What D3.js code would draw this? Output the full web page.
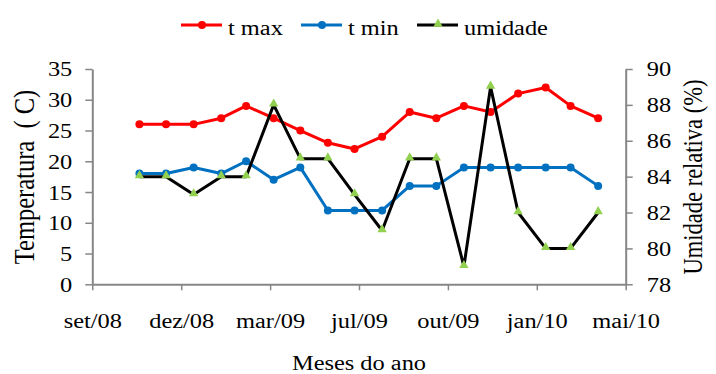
<!DOCTYPE html>
<html>
<head>
<meta charset="utf-8">
<script src="https://cdn.jsdelivr.net/npm/d3@7/dist/d3.min.js"></script>
<style>
  html, body { margin: 0; padding: 0; background: #fff; }
  svg { display: block; }
  text { font-family: "Liberation Serif", "Times New Roman", serif; fill: #000; }
</style>
</head>
<body>
<svg id="chart" width="716" height="374"></svg>
<script>
// Monthly observations, Nov 2008 - Apr 2010 (first day of each month)
const months = ["2008-11-01","2008-12-01","2009-01-01","2009-02-01","2009-03-01","2009-04-01",
                "2009-05-01","2009-06-01","2009-07-01","2009-08-01","2009-09-01","2009-10-01",
                "2009-11-01","2009-12-01","2010-01-01","2010-02-01","2010-03-01","2010-04-01"];
const tMax = [26, 26, 26, 27, 29, 27, 25, 23, 22, 24, 28, 27, 29, 28, 31, 32, 29, 27];
const tMin = [18, 18, 19, 18, 20, 17, 19, 12, 12, 12, 16, 16, 19, 19, 19, 19, 19, 16];
const umidade = [84, 84, 83, 84, 84, 88, 85, 85, 83, 81, 85, 85, 79, 89, 82, 80, 80, 82];

// Date axis: ticks every 100 days
const xTickDates = ["2008-09-09","2008-12-18","2009-03-28","2009-07-06","2009-10-14","2010-01-22","2010-05-02"];
const xTickLabels = ["set/08","dez/08","mar/09","jul/09","out/09","jan/10","mai/10"];
const tempTicks = [0, 5, 10, 15, 20, 25, 30, 35];
const humTicks = [78, 80, 82, 84, 86, 88, 90];

const parse = d3.utcParse("%Y-%m-%d");
const plotLeft = 92.3, plotRight = 625.7, plotTop = 69, plotBottom = 284.3;
const SX = 1.19;            // horizontal text stretch
const FS = 20.5;            // base font size
const axisColor = "#868686";

const svg = d3.select("#chart");

const x = d3.scaleUtc().domain([parse(xTickDates[0]), parse(xTickDates[xTickDates.length - 1])]).range([plotLeft, plotRight]);
const yT = d3.scaleLinear().domain([0, 35]).range([plotBottom, plotTop]);
const yH = d3.scaleLinear().domain([78, 90]).range([plotBottom, plotTop]);

// stretch a text node horizontally around its anchor position
function stretchText(sel, fs) {
  sel.each(function () {
    const t = d3.select(this);
    const tx = +t.attr("x") || 0;
    t.attr("x", tx / SX).attr("transform", `scale(${SX},1)`).style("font-size", fs + "px");
  });
}

function styleAxis(g) {
  g.attr("font-family", null);
  g.select(".domain").attr("stroke", axisColor).attr("stroke-width", 2);
  g.selectAll(".tick line").attr("stroke", axisColor).attr("stroke-width", 1.5);
  g.selectAll("text").attr("fill", "#000");
}

// Left axis (temperature)
const gL = svg.append("g").attr("transform", `translate(${plotLeft},0)`)
  .call(d3.axisLeft(yT).tickValues(tempTicks).tickSize(7).tickPadding(13).tickSizeOuter(0));
styleAxis(gL);
gL.selectAll("text").attr("dy", "0.34em");
stretchText(gL.selectAll("text"), FS);

// Right axis (humidity)
const gR = svg.append("g").attr("transform", `translate(${plotRight},0)`)
  .call(d3.axisRight(yH).tickValues(humTicks).tickSize(7).tickPadding(14).tickSizeOuter(0));
styleAxis(gR);
gR.selectAll("text").attr("dy", "0.34em");
stretchText(gR.selectAll("text"), FS);

// Bottom axis (dates)
const gB = svg.append("g").attr("transform", `translate(0,${plotBottom})`)
  .call(d3.axisBottom(x).tickValues(xTickDates.map(parse)).tickSize(6).tickPadding(23).tickSizeOuter(0)
    .tickFormat((d, i) => xTickLabels[i]));
styleAxis(gB);
gB.selectAll("text").attr("dy", "0.71em");
stretchText(gB.selectAll("text"), FS);

// Series
const series = [
  { name: "t max", values: tMax, y: yT, color: "#ff0000", marker: "circle" },
  { name: "t min", values: tMin, y: yT, color: "#0070c0", marker: "circle" },
  { name: "umidade", values: umidade, y: yH, color: "#000000", marker: "triangle" }
];
const triColor = "#92d050";
const tri = d3.symbol().type(d3.symbolTriangle).size(38);

series.forEach(s => {
  const pts = months.map((m, i) => [x(parse(m)), s.y(s.values[i])]);
  svg.append("path").datum(pts)
    .attr("fill", "none").attr("stroke", s.color).attr("stroke-width", 3)
    .attr("stroke-linejoin", "round")
    .attr("d", d3.line());
  if (s.marker === "circle") {
    svg.append("g").selectAll("circle").data(pts).join("circle")
      .attr("cx", d => d[0]).attr("cy", d => d[1]).attr("r", 4).attr("fill", s.color);
  } else {
    svg.append("g").selectAll("path").data(pts).join("path")
      .attr("transform", d => `translate(${d[0]},${d[1] - 1})`).attr("d", tri).attr("fill", triColor);
  }
});

// Legend
const legendX = [181, 301, 417];
const legend = svg.append("g");
series.forEach((s, i) => {
  const lx = legendX[i], ly = 25;
  legend.append("line").attr("x1", lx).attr("x2", lx + 41).attr("y1", ly).attr("y2", ly)
    .attr("stroke", s.color).attr("stroke-width", 3);
  if (s.marker === "circle") {
    legend.append("circle").attr("cx", lx + 21).attr("cy", ly).attr("r", 4).attr("fill", s.color);
  } else {
    legend.append("path").attr("transform", `translate(${lx + 21},${ly - 1})`).attr("d", tri).attr("fill", triColor);
  }
  const t = legend.append("text").attr("x", lx + 47).attr("y", ly + 10).text(s.name);
  stretchText(t, FS);
});

// Axis titles
svg.append("text").attr("text-anchor", "middle")
  .attr("transform", `translate(${(plotLeft + plotRight) / 2},370) scale(${SX},1)`)
  .style("font-size", FS + "px").text("Meses do ano");

svg.append("text").attr("text-anchor", "middle")
  .attr("transform", `translate(34,177) scale(${SX},1) rotate(-90)`)
  .style("font-size", "24.5px").text("Temperatura\u00a0\u00a0(\u00a0C)");

svg.append("text").attr("text-anchor", "middle")
  .attr("transform", `translate(702,177) scale(${SX},1) rotate(-90)`)
  .style("font-size", "22.5px").text("Umidade relativa (%)");
</script>
</body>
</html>
